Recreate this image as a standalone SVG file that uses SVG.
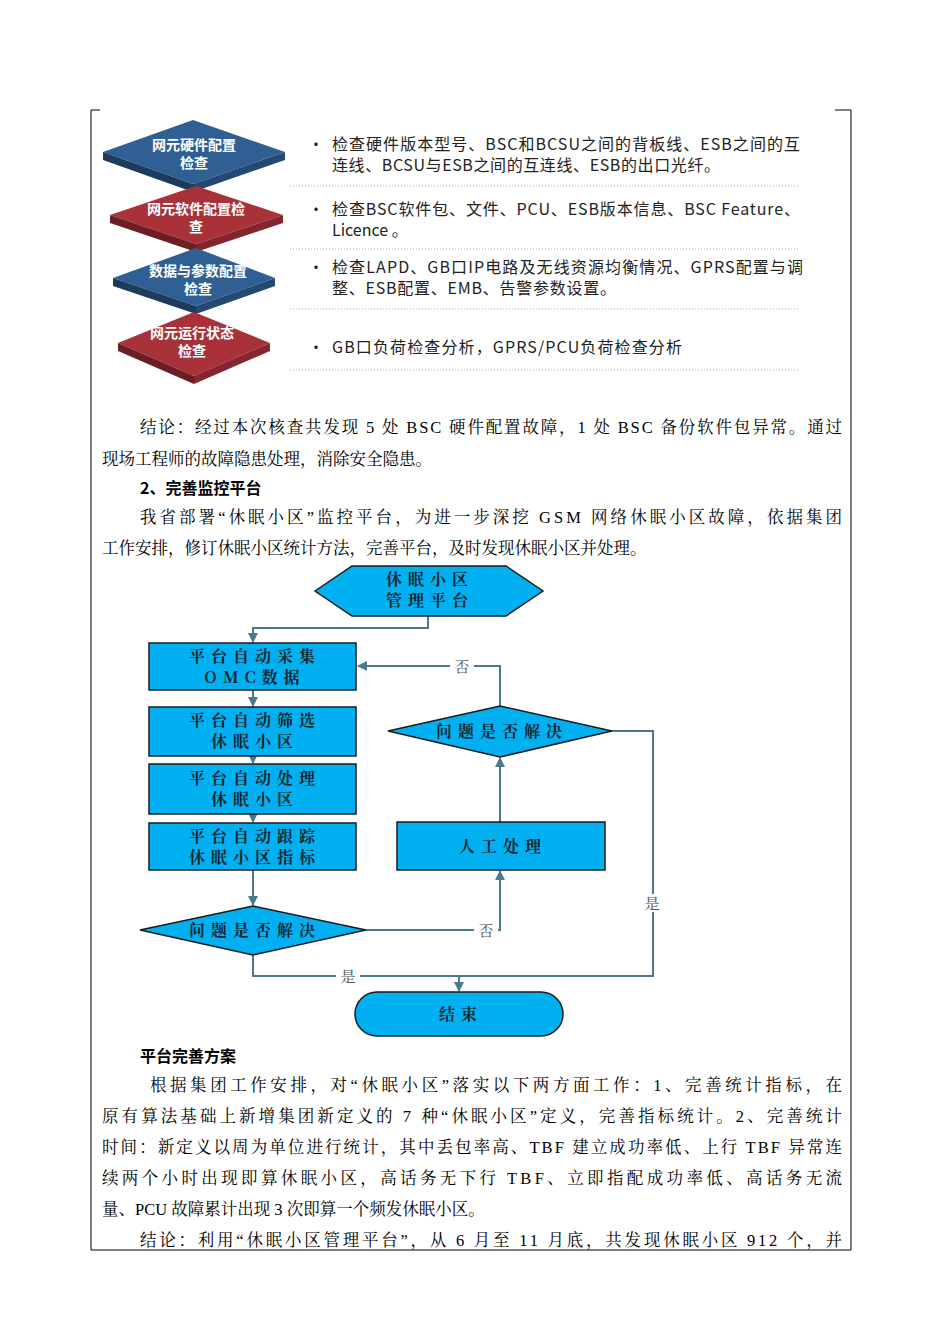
<svg xmlns="http://www.w3.org/2000/svg" width="950" height="1344" viewBox="0 0 950 1344">
<defs>
<style>
.b{font-family:"Noto Sans CJK SC","Liberation Sans",sans-serif;font-size:16px;fill:#222}
.w{font-family:"Noto Sans CJK SC",sans-serif;font-size:14px;font-weight:bold;fill:#fff;text-anchor:middle}
.p{font-family:"Liberation Serif","Noto Serif CJK SC","Noto Sans CJK SC",serif;font-size:16.5px;fill:#000}
.h{font-family:"Noto Sans CJK SC",sans-serif;font-size:16px;font-weight:bold;fill:#000}
.f{fill:#00b0f0;stroke:#1a1a1a;stroke-width:1.5}
.ft{font-family:"Noto Serif CJK SC","Noto Sans CJK SC",serif;font-size:16px;font-weight:bold;fill:#14262f;text-anchor:middle;letter-spacing:6px}
.c{fill:none;stroke:#4a7a8c;stroke-width:2}
.l{font-family:"Noto Serif CJK SC","Noto Sans CJK SC",serif;font-size:15px;fill:#555;text-anchor:middle}
.dot{stroke:#aaa;stroke-width:1;stroke-dasharray:1 2}
</style>
<marker id="a" viewBox="0 0 10 10" refX="9" refY="5" markerWidth="5" markerHeight="5" orient="auto"><path d="M0 0L10 5L0 10z" fill="#4a7a8c"/></marker>
</defs>
<g id="frame" stroke="#000" stroke-width="1" fill="none">
<path d="M100 110H91V1250H851V110H835"/>
</g>
<g id="n1"><polygon points="103,152 193,120 285,152 193,184" fill="#2f5f93"/><polygon points="103,152 193,184 193,192 103,160" fill="#1d3b5c"/><polygon points="285,152 193,184 193,192 285,160" fill="#244a73"/><text class="w" x="194" y="150">网元硬件配置</text><text class="w" x="194" y="168">检查</text></g>
<g id="n2"><polygon points="110,215 196,186 283,215 196,244" fill="#a8313a"/><polygon points="110,215 196,244 196,252 110,223" fill="#6d1e24"/><polygon points="283,215 196,244 196,252 283,223" fill="#86252c"/><text class="w" x="196" y="214">网元软件配置检</text><text class="w" x="196" y="232">查</text></g>
<g id="n3"><polygon points="113,278 196,248 275,278 196,306" fill="#2f5f93"/><polygon points="113,278 196,306 196,314 113,286" fill="#1d3b5c"/><polygon points="275,278 196,306 196,314 275,286" fill="#244a73"/><text class="w" x="198" y="276">数据与参数配置</text><text class="w" x="198" y="294">检查</text></g>
<g id="n4"><polygon points="118,343 194,312 270,343 194,376" fill="#a8313a"/><polygon points="118,343 194,376 194,384 118,351" fill="#6d1e24"/><polygon points="270,343 194,376 194,384 270,351" fill="#86252c"/><text class="w" x="192" y="338">网元运行状态</text><text class="w" x="192" y="356">检查</text></g>
<g id="list">
<text class="b" x="308" y="150">•</text><text class="b" x="332" y="150" textLength="468">检查硬件版本型号、BSC和BCSU之间的背板线、ESB之间的互</text><text class="b" x="332" y="171" textLength="388">连线、BCSU与ESB之间的互连线、ESB的出口光纤。</text>
<text class="b" x="308" y="215">•</text><text class="b" x="332" y="215" textLength="468">检查BSC软件包、文件、PCU、ESB版本信息、BSC Feature、</text><text class="b" x="332" y="236">Licence 。</text>
<text class="b" x="308" y="273">•</text><text class="b" x="332" y="273" textLength="471">检查LAPD、GB口IP电路及无线资源均衡情况、GPRS配置与调</text><text class="b" x="332" y="294" textLength="284">整、ESB配置、EMB、告警参数设置。</text>
<text class="b" x="308" y="353">•</text><text class="b" x="332" y="353" textLength="350">GB口负荷检查分析，GPRS/PCU负荷检查分析</text>
<line class="dot" x1="290" y1="186" x2="800" y2="186"/><line class="dot" x1="290" y1="249" x2="800" y2="249"/><line class="dot" x1="290" y1="309" x2="800" y2="309"/><line class="dot" x1="290" y1="370" x2="800" y2="370"/>
</g>
<g id="body">
<text class="p" x="140" y="433" textLength="702">结论：经过本次核查共发现 5 处 BSC 硬件配置故障，1 处 BSC 备份软件包异常。通过</text>
<text class="p" x="102" y="465">现场工程师的故障隐患处理，消除安全隐患。</text>
<text class="h" x="140" y="494">2、完善监控平台</text>
<text class="p" x="140" y="523" textLength="702">我省部署“休眠小区”监控平台，为进一步深挖 GSM 网络休眠小区故障，依据集团</text>
<text class="p" x="102" y="554">工作安排，修订休眠小区统计方法，完善平台，及时发现休眠小区并处理。</text>
<text class="h" x="140" y="1062">平台完善方案</text>
<text class="p" x="150" y="1091" textLength="692">根据集团工作安排，对“休眠小区”落实以下两方面工作：1、完善统计指标，在</text>
<text class="p" x="102" y="1122" textLength="740">原有算法基础上新增集团新定义的 7 种“休眠小区”定义，完善指标统计。2、完善统计</text>
<text class="p" x="102" y="1153" textLength="740">时间：新定义以周为单位进行统计，其中丢包率高、TBF 建立成功率低、上行 TBF 异常连</text>
<text class="p" x="102" y="1184" textLength="740">续两个小时出现即算休眠小区，高话务无下行 TBF、立即指配成功率低、高话务无流</text>
<text class="p" x="102" y="1215">量、PCU 故障累计出现 3 次即算一个频发休眠小区。</text>
<text class="p" x="140" y="1246" textLength="702">结论：利用“休眠小区管理平台”，从 6 月至 11 月底，共发现休眠小区 912 个，并</text>
</g>
<g id="connectors">
<path class="c" d="M428 616V628H253V642" marker-end="url(#a)"/>
<path class="c" d="M253 690V706" marker-end="url(#a)"/>
<path class="c" d="M253 756V763" marker-end="url(#a)"/>
<path class="c" d="M253 814V822" marker-end="url(#a)"/>
<path class="c" d="M253 870V905" marker-end="url(#a)"/>
<path class="c" d="M500 706V666H358" marker-end="url(#a)"/>
<path class="c" d="M366 930H500V871" marker-end="url(#a)"/>
<path class="c" d="M500 822V758" marker-end="url(#a)"/>
<path class="c" d="M612 731H653V976H459V991" marker-end="url(#a)"/>
<path class="c" d="M253 955V976H459"/>
<rect x="450" y="657" width="24" height="18" fill="#fff"/><text class="l" x="462" y="672">否</text>
<rect x="474" y="921" width="24" height="18" fill="#fff"/><text class="l" x="486" y="936">否</text>
<rect x="640" y="894" width="24" height="18" fill="#fff"/><text class="l" x="652" y="909">是</text>
<rect x="336" y="967" width="24" height="18" fill="#fff"/><text class="l" x="348" y="982">是</text>
</g>
<g id="start"><polygon class="f" points="315,591 352,566 506,566 543,591 506,616 352,616"/><text class="ft" x="430" y="585">休眠小区</text><text class="ft" x="430" y="606">管理平台</text></g>
<g id="s1"><rect class="f" x="149" y="643" width="207" height="47"/><text class="ft" x="255" y="662">平台自动采集</text><text class="ft" x="255" y="683">OMC数据</text></g>
<g id="s2"><rect class="f" x="149" y="707" width="207" height="49"/><text class="ft" x="255" y="726">平台自动筛选</text><text class="ft" x="255" y="747">休眠小区</text></g>
<g id="s3"><rect class="f" x="149" y="764" width="207" height="50"/><text class="ft" x="255" y="784">平台自动处理</text><text class="ft" x="255" y="805">休眠小区</text></g>
<g id="s4"><rect class="f" x="149" y="823" width="207" height="47"/><text class="ft" x="255" y="842">平台自动跟踪</text><text class="ft" x="255" y="863">休眠小区指标</text></g>
<g id="d1"><polygon class="f" points="140,930 253,906 366,930 253,955"/><text class="ft" x="255" y="936">问题是否解决</text></g>
<g id="d2"><polygon class="f" points="388,731 500,706 612,731 500,757"/><text class="ft" x="502" y="737">问题是否解决</text></g>
<g id="manual"><rect class="f" x="397" y="822" width="208" height="48"/><text class="ft" x="503" y="852">人工处理</text></g>
<g id="end"><rect class="f" x="355" y="992" width="208" height="44" rx="22"/><text class="ft" x="461" y="1020">结束</text></g>
</svg>
